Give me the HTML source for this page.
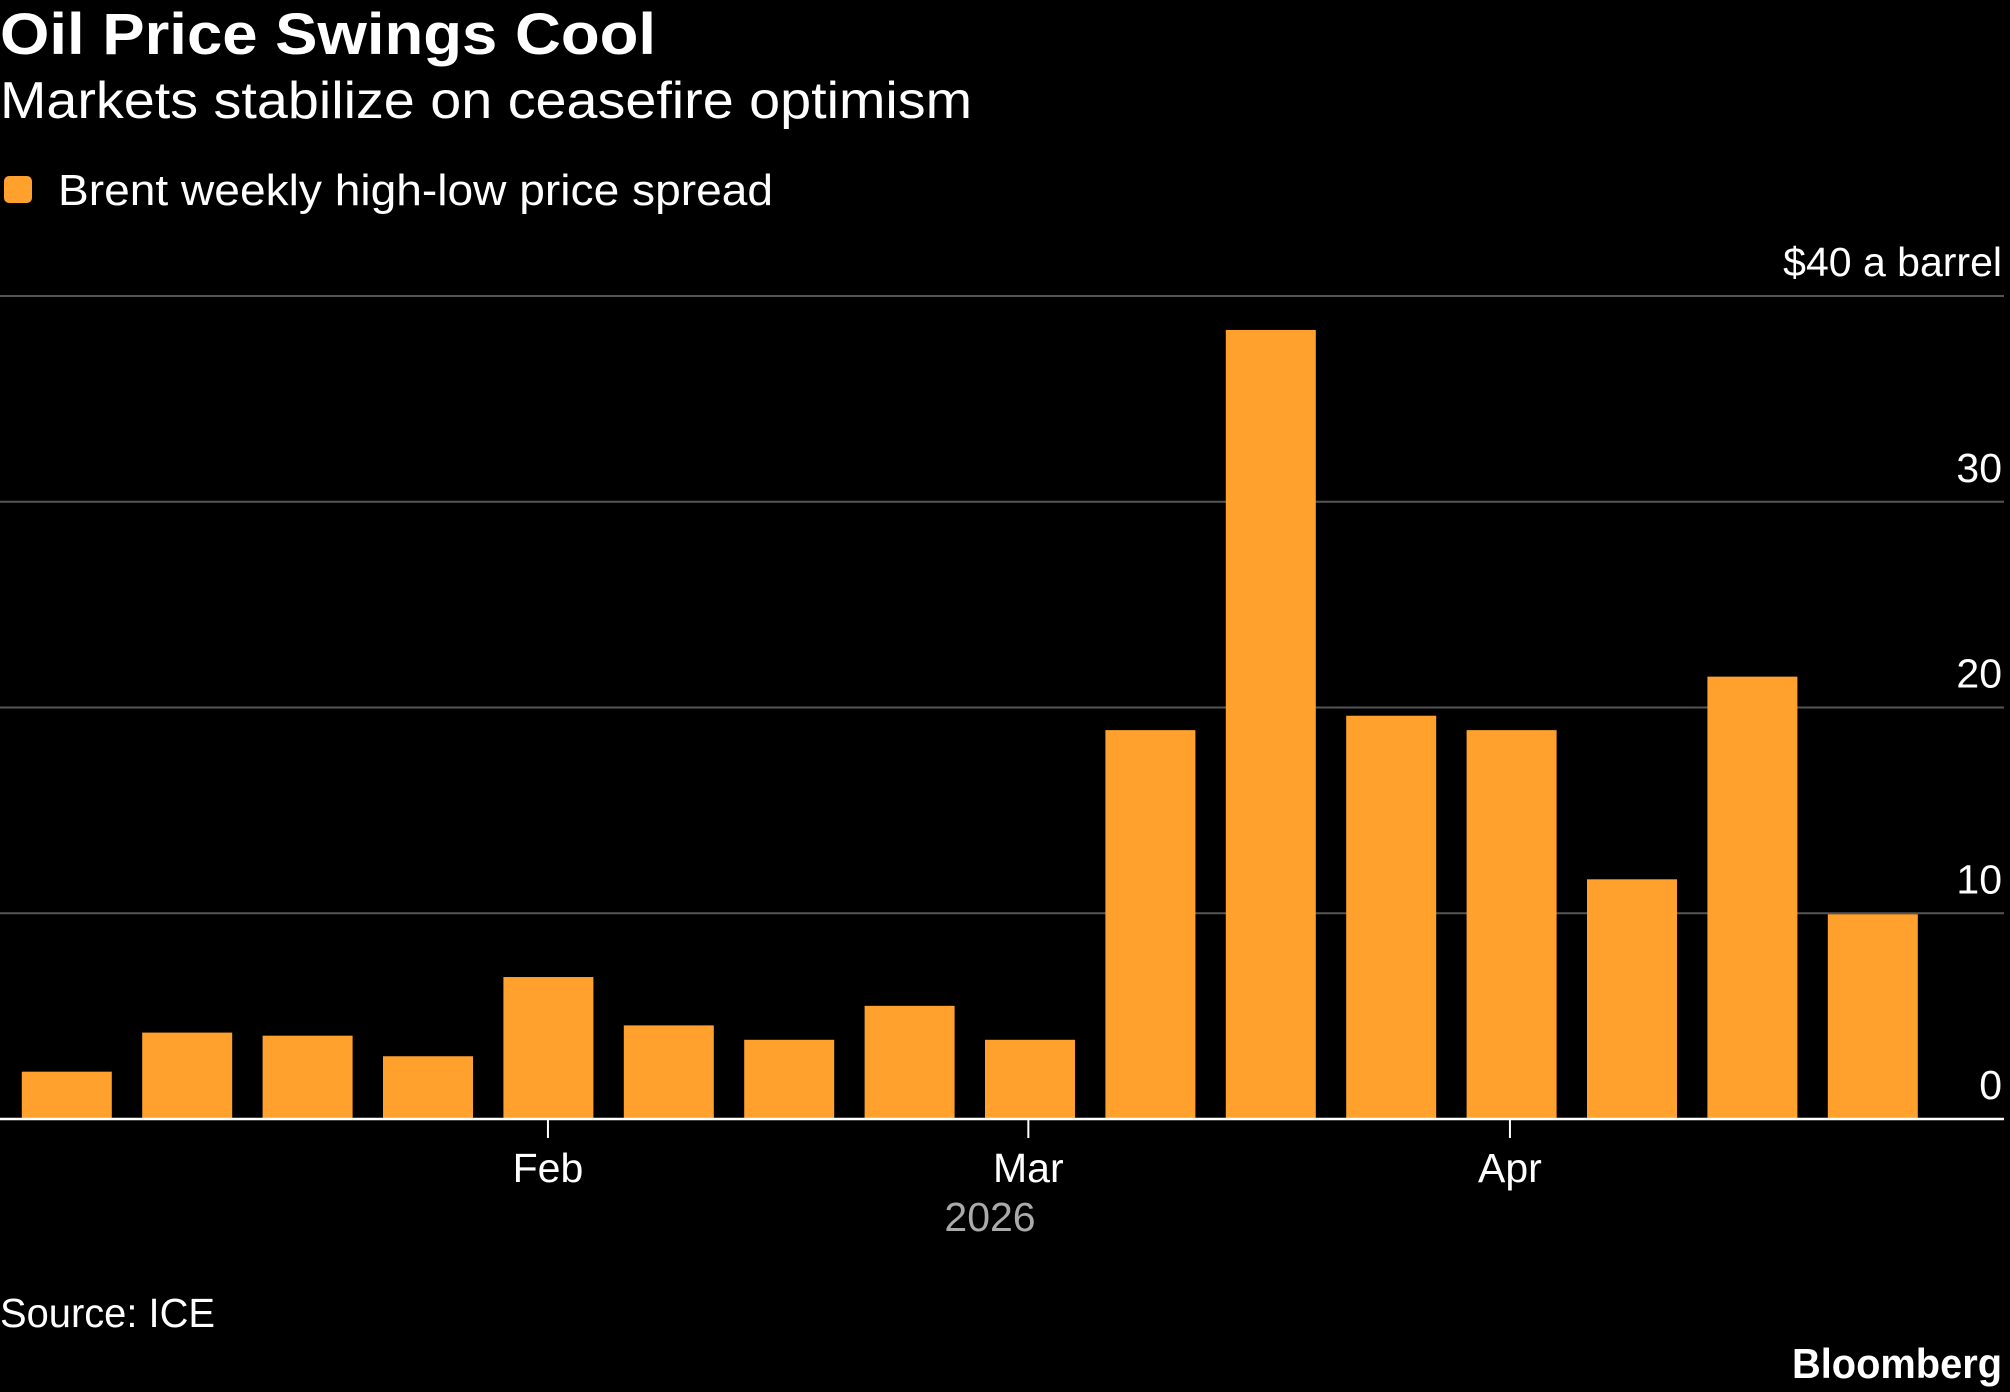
<!DOCTYPE html>
<html><head><meta charset="utf-8"><style>
html,body{margin:0;padding:0;background:#000;}
svg{display:block;font-family:"Liberation Sans",sans-serif;}
</style></head><body>
<svg id="chart" width="2010" height="1392" viewBox="0 0 2010 1392">
<rect x="0" y="0" width="2010" height="1392" fill="#000"/>
<text x="0" y="54" fill="#fff" font-weight="bold" font-size="58" textLength="656" lengthAdjust="spacingAndGlyphs">Oil Price Swings Cool</text>
<text x="0" y="118" fill="#fff" font-size="52" textLength="972" lengthAdjust="spacingAndGlyphs">Markets stabilize on ceasefire optimism</text>
<g>
<rect x="4" y="176" width="28" height="27" rx="5" fill="#ffa12c"/>
<text x="58" y="205" fill="#fff" font-size="44" textLength="715" lengthAdjust="spacingAndGlyphs">Brent weekly high-low price spread</text>
</g>
<g id="grid"></g>
<g id="bars"></g>
<g id="xaxis"></g>
<text x="990" y="1231" fill="#aaa" font-size="41" text-anchor="middle">2026</text>
<text x="0" y="1327" fill="#fff" font-size="41" textLength="215" lengthAdjust="spacingAndGlyphs">Source: ICE</text>
<text x="2002" y="1378" fill="#fff" font-size="42" font-weight="bold" text-anchor="end" textLength="210" lengthAdjust="spacingAndGlyphs">Bloomberg</text>
</svg>
<script>
const values = [2.3, 4.2, 4.05, 3.05, 6.9, 4.55, 3.85, 5.5, 3.85, 18.9, 38.35, 19.6, 18.9, 11.65, 21.5, 9.95];
const yTicks = [0, 10, 20, 30, 40];
const yTickLabels = ["0", "10", "20", "30", "$40 a barrel"];
const monthLabels = ["Feb", "Mar", "Apr"];
const monthPositions = [4.37, 8.36, 12.36]; // in bar-index units (month start)

const NS = "http://www.w3.org/2000/svg";
const y0 = 1119, yTop = 296, yMax = 40;
const yScale = v => y0 - (v / yMax) * (y0 - yTop);
const firstX = 21.8, step = 120.4, barW = 90;
const xScale = i => firstX + i * step;

function mk(tag, attrs, parent) {
  const el = document.createElementNS(NS, tag);
  for (const k in attrs) el.setAttribute(k, attrs[k]);
  parent.appendChild(el);
  return el;
}
const grid = document.getElementById('grid');
yTicks.forEach((t, i) => {
  if (t !== 0) {
    const l = mk('line', {x1: 0, x2: 2004, y1: yScale(t), y2: yScale(t), stroke: '#555', 'stroke-width': 2}, grid);
    
    
  }
  const tx = mk('text', {x: 2002, y: yScale(t) - 20, fill: '#fff', 'font-size': 41, 'text-anchor': 'end'}, grid);
  tx.textContent = yTickLabels[i];
  
  
});
const bars = document.getElementById('bars');
values.forEach((v, i) => {
  const r = mk('rect', {x: xScale(i), y: yScale(v), width: barW, height: y0 - yScale(v), fill: '#ffa12c'}, bars);
  
  
});
const xa = document.getElementById('xaxis');
const base = mk('line', {x1: 0, x2: 2004, y1: y0, y2: y0, stroke: '#fff', 'stroke-width': 2.5}, xa);


monthLabels.forEach((m, i) => {
  const x = xScale(monthPositions[i]);
  const tk = mk('line', {x1: x, x2: x, y1: y0, y2: y0 + 19, stroke: '#fff', 'stroke-width': 2}, xa);
  
  
  const t = mk('text', {x: x, y: 1182, fill: '#fff', 'font-size': 41, 'text-anchor': 'middle'}, xa);
  t.textContent = m;
  
  
});
</script>
</body></html>
